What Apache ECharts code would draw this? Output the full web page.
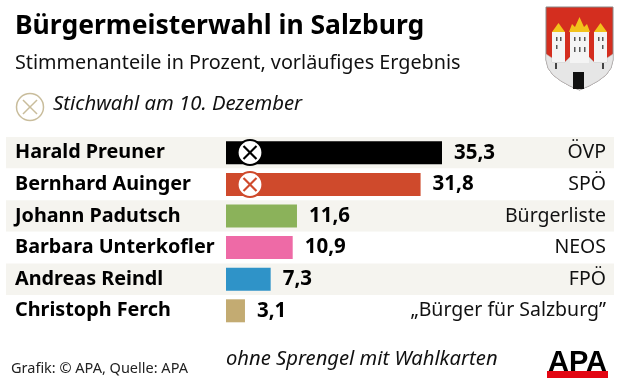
<!DOCTYPE html>
<html><head><meta charset="utf-8">
<style>html,body{margin:0;padding:0;background:#fff}#c{width:620px;height:388px}</style>
<script src="https://cdn.jsdelivr.net/npm/echarts@6/dist/echarts.min.js"></script>
</head><body><div id="c"></div>
<script>
const candidates = ['Harald Preuner','Bernhard Auinger','Johann Padutsch','Barbara Unterkofler','Andreas Reindl','Christoph Ferch'];
const shares = [35.3,31.8,11.6,10.9,7.3,3.1];
const parties = ['ÖVP','SPÖ','Bürgerliste','NEOS','FPÖ','„Bürger für Salzburg”'];
const barColors = ['#000000','#cf4a2c','#8bb25a','#ee6aa6','#2f93c8','#c3ab72'];
const FONT = '"Noto Sans"';
const chart = echarts.init(document.getElementById('c'), null, {renderer:'canvas'});
const pxPerUnit = 216/35.3;
function cross(cx,cy,color,fill,lw,r){
  const d=r*0.52;
  return [
    {type:'circle',shape:{cx,cy,r},style:{fill,stroke:color,lineWidth:lw},z:20},
    {type:'line',shape:{x1:cx-d,y1:cy-d,x2:cx+d,y2:cy+d},style:{stroke:color,lineWidth:lw},z:21},
    {type:'line',shape:{x1:cx-d,y1:cy+d,x2:cx+d,y2:cy-d},style:{stroke:color,lineWidth:lw},z:21}
  ];
}
function t(text,left,top,size,extra){
  return {left,top,text,padding:0,textStyle:Object.assign({fontFamily:FONT,fontSize:size,color:'#111',fontWeight:'normal'},extra||{})};
}
const shieldOutline=[[546,7],[613,7],[613,60],[611,68],[606,75],[598,81],[589,86],[579.5,90],[570,86],[561,81],[553,75],[548,68],[546,60]];
const wallOutline=[[546,54],[552,58],[552,62],[565,62],[570,57],[589,57],[594,62],[607,62],[607,58],[613,54],[613,60],[611,68],[606,75],[598,81],[589,86],[579.5,90],[570,86],[561,81],[553,75],[548,68],[546,60]];
const rect=(x,y,width,height,fill,z)=>({type:'rect',shape:{x,y,width,height},style:{fill},z:z||9});
const arms=[
 {type:'polygon',shape:{points:shieldOutline},style:{fill:'#d42e1f',stroke:'#888',lineWidth:1},z:5},
 {type:'polygon',shape:{points:wallOutline},style:{fill:'#e6e6e6',stroke:'#bbb',lineWidth:.5},z:6},
 rect(552,32,13,30,'#f4f4f4',7), rect(570,29,19,34,'#f4f4f4',7), rect(594,32,13,30,'#f4f4f4',7),
 {type:'polygon',shape:{points:[[552,32],[558.5,23],[565,32]]},style:{fill:'#f2c21b'},z:8},
 {type:'polygon',shape:{points:[[569,32],[572,24],[575,27],[579.5,17],[584,27],[587,24],[590,32]]},style:{fill:'#f2c21b'},z:8},
 {type:'polygon',shape:{points:[[594,32],[600.5,23],[607,32]]},style:{fill:'#f2c21b'},z:8},
 rect(573,72,11,17,'#111'),
 rect(556,37,1.5,4,'#555'), rect(560,37,1.5,4,'#555'), rect(574,37,1.5,4,'#555'), rect(579,37,1.5,4,'#555'),
 rect(584,37,1.5,4,'#555'), rect(598,37,1.5,4,'#555'), rect(602,37,1.5,4,'#555'),
 rect(556,45,1.5,4,'#555'), rect(602,45,1.5,4,'#555'),
 rect(574,47,1.5,5,'#555'), rect(579,47,1.5,5,'#555'), rect(584,47,1.5,5,'#555'),
 rect(555,63,2,6,'#444'), rect(602,63,2,6,'#444')
];
chart.setOption({
  animation:false,
  backgroundColor:'#fff',
  title:[
    t('Bürgermeisterwahl in Salzburg',15,13,26.5,{fontWeight:'bold',color:'#000'}),
    t('Stimmenanteile in Prozent, vorläufiges Ergebnis',15,53,19.8),
    t('Stichwahl am 10. Dezember',53,94,20.3,{fontStyle:'italic'}),
    t('Grafik: © APA, Quelle: APA',11,361,14.5,{color:'#222'}),
    t('ohne Sprengel mit Wahlkarten',226,349,20.2,{fontStyle:'italic'})
  ],
  grid:{left:6,right:6,top:137,height:189.6},
  xAxis:{type:'value',min:-220/pxPerUnit,max:388/pxPerUnit,show:false},
  yAxis:[
    {type:'category',inverse:true,data:candidates,position:'left',
     axisLine:{show:false,onZero:false},axisTick:{show:false},
     splitArea:{show:true,areaStyle:{color:['#f5f4ef','#ffffff']}},
     axisLabel:{inside:true,margin:9,padding:[2,0,0,0],fontFamily:FONT,fontSize:19.8,fontWeight:'bold',color:'#000'}},
    {type:'category',inverse:true,data:parties,position:'right',
     axisLine:{show:false,onZero:false},axisTick:{show:false},
     axisLabel:{inside:true,margin:8,padding:[2,0,0,0],fontFamily:FONT,fontSize:19.5,color:'#111'}}
  ],
  series:[{type:'bar',barWidth:23,
    data:shares.map((v,i)=>({value:v,itemStyle:{color:barColors[i]}})),
    label:{show:true,position:'right',distance:12,padding:[2,0,0,0],fontFamily:FONT,fontSize:20.5,fontWeight:'bold',color:'#000',
      formatter:p=>String(p.value).replace('.',',')}
  }],
  graphic:[
    ...cross(30,107,'#c9bd9c','#fff',1.5,13.5),
    ...cross(250,152.5,'#000','#fff',2.2,12.5),
    ...cross(250,184.5,'#cf4a2c','#fff',2.2,12.5),
    ...arms,
    {type:'text',style:{x:577.5,y:363,text:'APA',fill:'#000',font:'900 29px "Liberation Sans"',textAlign:'center',textVerticalAlign:'middle'},z:10},
    rect(547,371,61,7,'#e30613',11)
  ]
});
</script></body></html>
